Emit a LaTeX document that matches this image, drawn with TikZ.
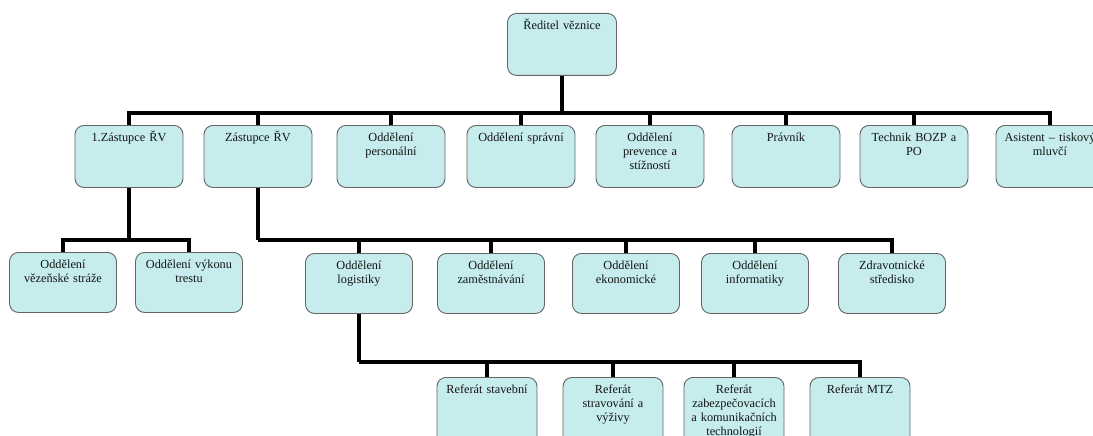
\documentclass[tikz,border=0pt]{standalone}
\usepackage{fontspec}
\setmainfont{Liberation Serif}
\usetikzlibrary{positioning}
\definecolor{boxfill}{RGB}{198,236,238}
\definecolor{boxline}{RGB}{100,100,100}
\definecolor{textcol}{RGB}{20,20,20}
\begin{document}
\begin{tikzpicture}[x=1pt, y=-1pt,
    unit/.style={draw=boxline, fill=boxfill, rounded corners=9pt, line width=0.9pt,
      anchor=north, align=center, inner sep=2pt, text=textcol,
      font=\fontsize{12.3}{14}\selectfont,
      text width=104pt, text height=14pt, text depth=44pt},
    low/.style={unit, text width=103pt, text depth=42pt},
    ref/.style={unit, text width=96pt, text depth=60pt},
    conn/.style={draw=black, line width=3.6pt}]
    \useasboundingbox (0,0) rectangle (1093,436);
    \clip (0,0) rectangle (1093,436);

    % boxes
    \node[unit, text width=105pt] (dir) at (562,13) {Ředitel věznice};

    \node[unit] (zast1) at (129,125) {1.Zástupce ŘV};
    \node[unit] (zast2) at (258,125) {Zástupce ŘV};
    \node[unit] (pers) at (391,125) {Oddělení\\personální};
    \node[unit] (sprav) at (521,125) {Oddělení správní};
    \node[unit] (prev) at (650,125) {Oddělení\\prevence a\\stížností};
    \node[unit] (pravnik) at (786,125) {Právník};
    \node[unit] (bozp) at (914,125) {Technik BOZP a\\PO};
    \node[unit] (asist) at (1050,125) {Asistent – tiskový\\mluvčí};

    \node[low] (straz) at (63,252) {Oddělení\\vězeňské stráže};
    \node[low] (trest) at (189,252) {Oddělení výkonu\\trestu};
    \node[low] (logist) at (359,253) {Oddělení\\logistiky};
    \node[low] (zamest) at (491,253) {Oddělení\\zaměstnávání};
    \node[low] (ekon) at (626,253) {Oddělení\\ekonomické};
    \node[low] (inform) at (755,253) {Oddělení\\informatiky};
    \node[low] (zdrav) at (892,253) {Zdravotnické\\středisko};

    \node[ref] (stavba) at (487,377) {Referát stavební};
    \node[ref] (strava) at (613,377) {Referát\\stravování a\\výživy};
    \node[ref] (zabezp) at (734,377) {Referát\\zabezpečovacích\\a komunikačních\\technologií};
    \node[ref] (mtz) at (860,377) {Referát MTZ};

    % bar points
    \coordinate (topbar) at (562,113);
    \coordinate (z1bar) at (129,240);
    \coordinate (z2bar) at (258,240);
    \coordinate (logbar) at (359,362);

    % connectors
    \draw[conn] (dir.south) -- (topbar);
    \foreach \n in {zast1,zast2,pers,sprav,prev,pravnik,bozp,asist}
        \draw[conn] (\n.north) |- (topbar);
    \draw[conn] (zast1.south) -- (z1bar);
    \foreach \n in {straz,trest}
        \draw[conn] (\n.north) |- (z1bar);
    \draw[conn] (zast2.south) -- (z2bar);
    \foreach \n in {logist,zamest,ekon,inform,zdrav}
        \draw[conn] (\n.north) |- (z2bar);
    \draw[conn] (logist.south) -- (logbar);
    \foreach \n in {stavba,strava,zabezp,mtz}
        \draw[conn] (\n.north) |- (logbar);
\end{tikzpicture}
\end{document}
